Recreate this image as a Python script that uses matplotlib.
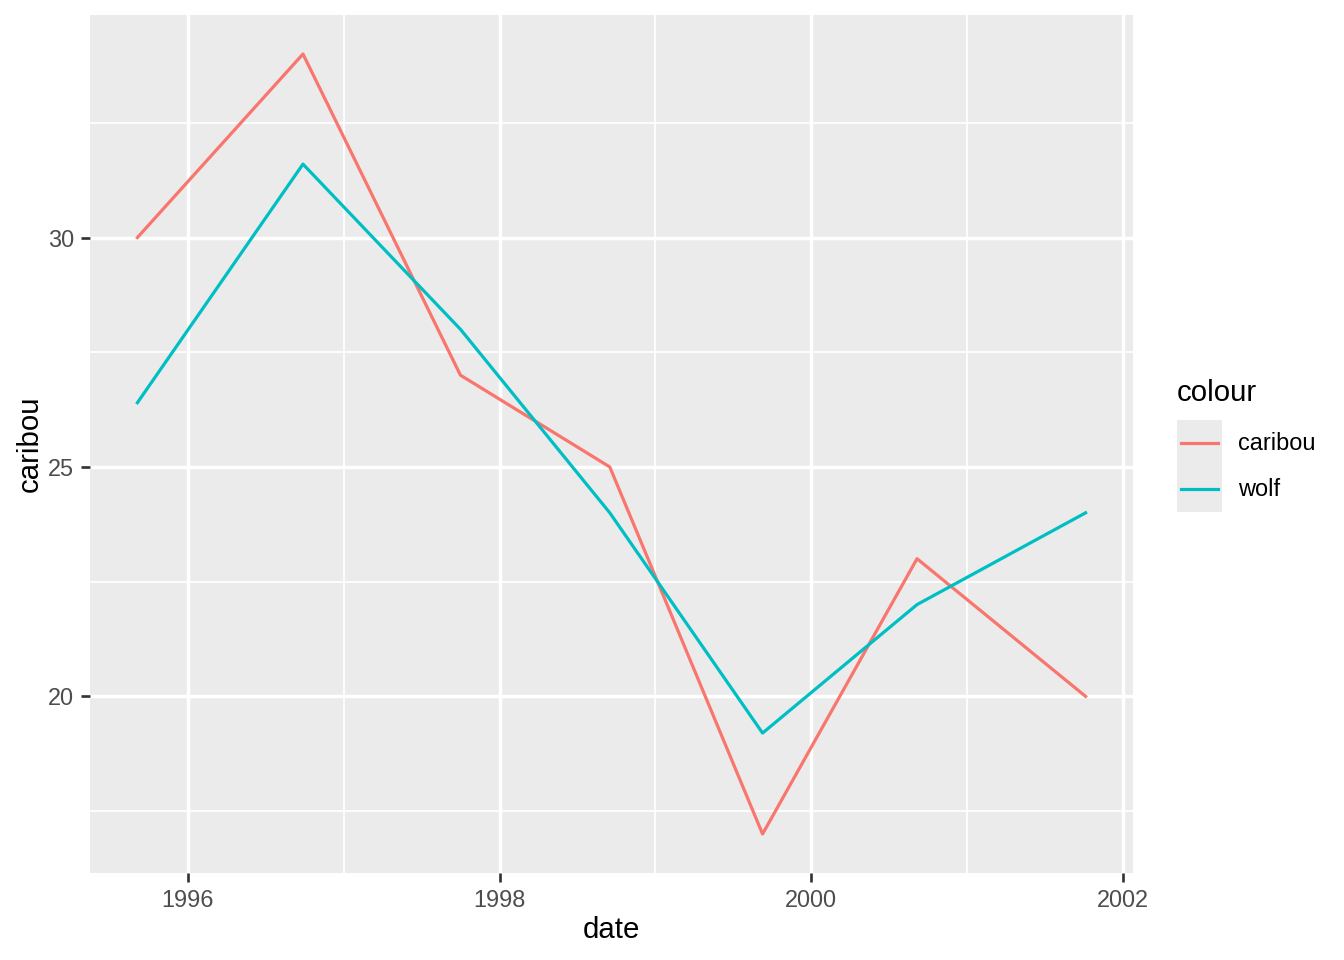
import matplotlib
matplotlib.use("Agg")
import matplotlib.pyplot as plt
import matplotlib.dates as mdates
import numpy as np
from matplotlib.lines import Line2D
from matplotlib.patches import Rectangle

dates = np.array(["1995-09-05", "1996-09-27", "1997-10-01", "1998-09-16",
                  "1999-09-09", "2000-09-05", "2001-10-05"], dtype="datetime64[D]")
caribou = [30, 34, 27, 25, 17, 23, 20]
wolf = [26.4, 31.6, 28, 24, 19.2, 22, 24]
series_names = ["caribou", "wolf"]
series_colors = ["#F8766D", "#00BFC4"]

plt.rcParams["font.family"] = ["Liberation Sans", "DejaVu Sans"]

fig = plt.figure(figsize=(7, 5), dpi=192)
ax = fig.add_axes([90 / 1344, 1 - 873 / 960, (1133 - 90) / 1344, (873 - 15) / 960])
ax.set_facecolor("#EBEBEB")
for s in ax.spines.values():
    s.set_visible(False)

for vals, name, col in zip([caribou, wolf], series_names, series_colors):
    ax.plot(dates, vals, color=col, lw=1.2, label=name, zorder=3)

# limits with 5% expansion like ggplot
x0 = mdates.date2num(dates[0])
x1 = mdates.date2num(dates[-1])
dx = (x1 - x0) * 0.05
ax.set_xlim(x0 - dx, x1 + dx)
ymin, ymax = min(caribou + wolf), max(caribou + wolf)
dy = (ymax - ymin) * 0.05
ax.set_ylim(ymin - dy, ymax + dy)

major_years = [1996, 1998, 2000, 2002]
minor_years = [1997, 1999, 2001]
ax.set_xticks([mdates.date2num(np.datetime64(f"{y}-01-01")) for y in major_years])
ax.set_xticklabels([str(y) for y in major_years])
ax.set_xticks([mdates.date2num(np.datetime64(f"{y}-01-01")) for y in minor_years], minor=True)
ax.set_yticks([20, 25, 30])
ax.set_yticks([17.5, 22.5, 27.5, 32.5], minor=True)

ax.grid(True, which="major", color="white", lw=1.3, zorder=1)
ax.grid(True, which="minor", color="white", lw=0.65, zorder=1)
ax.set_axisbelow(True)
ax.tick_params(which="major", length=3.5, width=1.0, color="#333333",
               labelsize=8.8, labelcolor="#4D4D4D", pad=2.5)
ax.tick_params(which="minor", length=0)

ax.set_xlabel("date", fontsize=11, color="black", labelpad=1.5)
ax.set_ylabel("caribou", fontsize=11, color="black", labelpad=1.5)

# legend, ggplot style
fig.text(1177 / 1344, 1 - 393 / 960, "colour", fontsize=11, va="center", ha="left")
fig.patches.append(Rectangle((1177 / 1344, 1 - 512 / 960), 45 / 1344, 92 / 960,
                             transform=fig.transFigure, facecolor="#EBEBEB",
                             edgecolor="none"))
for i, (name, col) in enumerate(zip(series_names, series_colors)):
    yc = 1 - (443 + i * 46) / 960
    fig.lines.append(Line2D([1181 / 1344, 1218 / 1344], [yc, yc], color=col, lw=1.2,
                            transform=fig.transFigure))
    fig.text(1238 / 1344, yc, name, fontsize=8.8, va="center", ha="left")

fig.savefig("out.png", dpi=192)
